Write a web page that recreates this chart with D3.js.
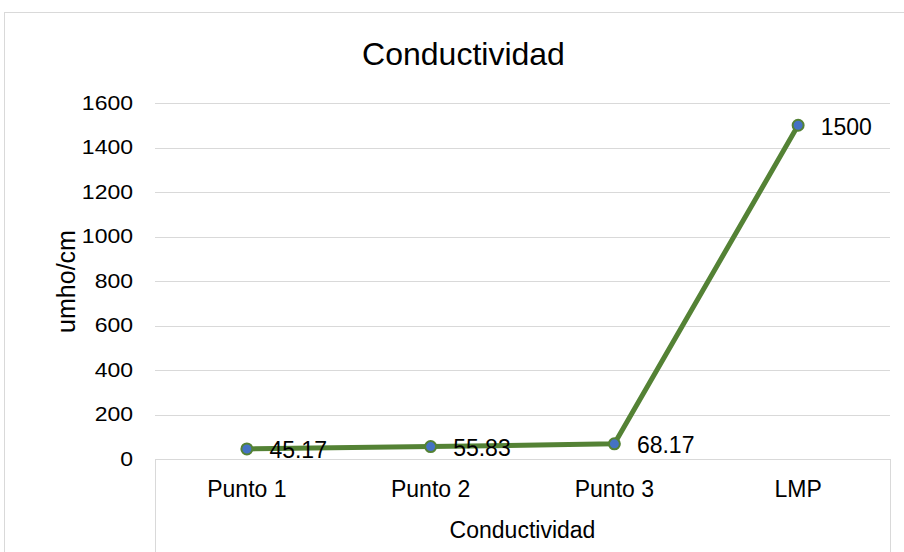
<!DOCTYPE html>
<html>
<head>
<meta charset="utf-8">
<script src="https://cdn.jsdelivr.net/npm/d3@7"></script>
<style>
  html, body { margin: 0; padding: 0; background: #fff; }
  svg { display: block; font-family: "Liberation Sans", Arial, sans-serif; }
</style>
</head>
<body>
<svg id="chart" width="904" height="552"></svg>
<script>
// Conductivity at each sampling point and the permissible limit (LMP)
const categories = ["Punto 1", "Punto 2", "Punto 3", "LMP"];
const values = [45.17, 55.83, 68.17, 1500];
const yTicks = [0, 200, 400, 600, 800, 1000, 1200, 1400, 1600];
const chartTitle = "Conductividad";
const yTitle = "umho/cm";
const groupLabel = "Conductividad";

const svg = d3.select("#chart");
const W = 904, H = 552;
const plot = { left: 155, right: 890, top: 103, bottom: 459 };
const FONT = "Liberation Sans, Arial, sans-serif";
const LABEL_SIZE = 23;

// chart frame
svg.append("rect")
  .attr("x", 4.5).attr("y", 12.5)
  .attr("width", W + 10).attr("height", H + 10)
  .attr("fill", "#fff").attr("stroke", "#d9d9d9").attr("stroke-width", 1);

const x = d3.scaleBand().domain(categories).range([plot.left, plot.right]).padding(0);
const y = d3.scaleLinear().domain([0, 1600]).range([plot.bottom, plot.top]);

// horizontal gridlines
svg.append("g").selectAll("line").data(yTicks.filter(d => d > 0)).join("line")
  .attr("x1", plot.left).attr("x2", plot.right)
  .attr("y1", d => Math.round(y(d)) + 0.5).attr("y2", d => Math.round(y(d)) + 0.5)
  .attr("stroke", "#d9d9d9").attr("stroke-width", 1);

// y axis tick labels (slightly flattened, wide numerals)
const yAxis = d3.axisLeft(y).tickValues(yTicks).tickSize(0).tickPadding(0).tickFormat(d3.format("d"));
const gy = svg.append("g").attr("transform", `translate(${plot.left - 22},0)`).call(yAxis);
gy.select(".domain").remove();
gy.selectAll("text").attr("font-size", LABEL_SIZE).attr("fill", "#000")
  .attr("font-family", FONT).attr("transform", "scale(1,0.86)");

// category axis with separator box
const gx = svg.append("g");
gx.append("line")
  .attr("x1", plot.left).attr("x2", plot.right)
  .attr("y1", plot.bottom + 0.5).attr("y2", plot.bottom + 0.5)
  .attr("stroke", "#d9d9d9");
[plot.left, plot.right].forEach(px => {
  gx.append("line")
    .attr("x1", px + 0.5).attr("x2", px + 0.5)
    .attr("y1", plot.bottom).attr("y2", H)
    .attr("stroke", "#d9d9d9");
});
const xAxis = d3.axisBottom(x).tickSize(0).tickPadding(0);
const gxl = svg.append("g").attr("transform", `translate(0,${plot.bottom})`).call(xAxis);
gxl.select(".domain").remove();
gxl.selectAll("text").attr("font-size", LABEL_SIZE).attr("fill", "#000")
  .attr("font-family", FONT).attr("dy", null).attr("y", 38);

svg.append("text")
  .attr("x", (plot.left + plot.right) / 2).attr("y", 538)
  .attr("text-anchor", "middle").attr("font-size", LABEL_SIZE).attr("fill", "#000")
  .text(groupLabel);

// titles
svg.append("text")
  .attr("x", 463.5).attr("y", 65)
  .attr("text-anchor", "middle").attr("font-size", 32).attr("fill", "#000")
  .text(chartTitle);

svg.append("text")
  .attr("transform", `translate(75,281.5) rotate(-90)`)
  .attr("text-anchor", "middle").attr("font-size", 25).attr("fill", "#000")
  .text(yTitle);

// series line
const pts = categories.map((c, i) => ({ c, v: values[i] }));
const cx = d => x(d.c) + x.bandwidth() / 2;
const line = d3.line().x(cx).y(d => y(d.v));
svg.append("path").datum(pts)
  .attr("d", line).attr("fill", "none")
  .attr("stroke", "#548235").attr("stroke-width", 5)
  .attr("stroke-linejoin", "round").attr("stroke-linecap", "round");

// markers
svg.append("g").selectAll("circle").data(pts).join("circle")
  .attr("cx", cx).attr("cy", d => y(d.v))
  .attr("r", 5.5).attr("fill", "#4472c4")
  .attr("stroke", "#548235").attr("stroke-width", 2);

// data labels
svg.append("g").selectAll("text").data(pts).join("text")
  .attr("x", d => cx(d) + 22.5)
  .attr("y", d => y(d.v) + 9.5)
  .attr("font-size", LABEL_SIZE).attr("fill", "#000")
  .text(d => d3.format(".2f")(d.v).replace(/\.00$/, ""));
</script>
</body>
</html>
